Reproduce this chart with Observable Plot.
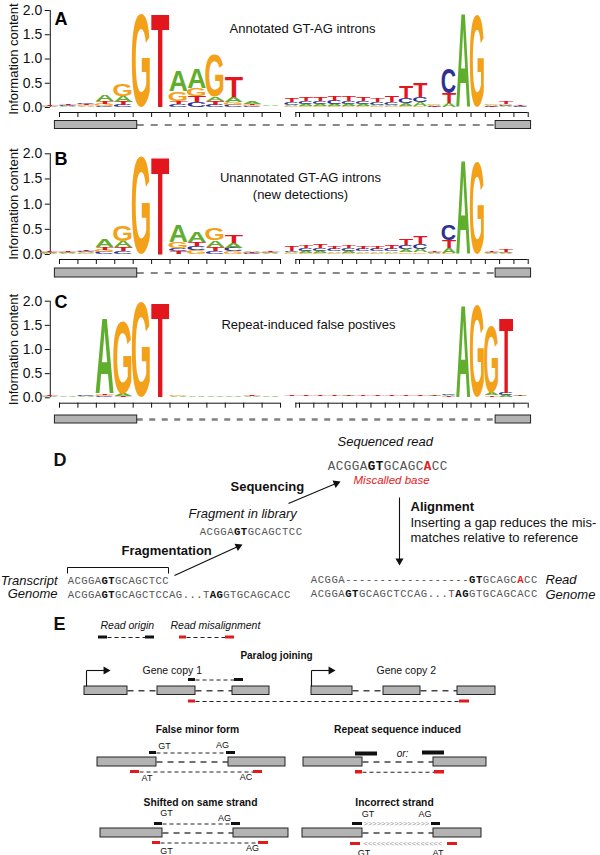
<!DOCTYPE html>
<html><head><meta charset="utf-8">
<script src="https://cdn.jsdelivr.net/npm/d3@7"></script>
<script src="https://cdn.jsdelivr.net/npm/@observablehq/plot@0.6"></script>
<style>
body{margin:0;background:#fff;}
#fig{position:relative;width:600px;height:855px;overflow:hidden;background:#fff;}
#fig > div{position:absolute;left:0;}
#fig svg{background:transparent !important;overflow:visible;}
</style></head><body><div id="fig"></div>
<script>
// ================= DATA =================
const leftPositions  = ["-5","-4","-3","-2","-1","+1","+2","+3","+4","+5","+6","+7","+8"];
const rightPositions = ["-14","-13","-12","-11","-10","-9","-8","-7","-6","-5","-4","-3","-2","-1","+1","+2","+3"];
const logoLetters  = ["A","C","G","T"];
const letterColors = ["#5fae2e","#2e3192","#f4a11a","#e2161d"];
const yTicks = [0, 0.5, 1, 1.5, 2];
const yLabel = "Information content";
const panelLetters = ["A","B","C","D","E"];
const panelTitles = ["Annotated GT-AG introns", "Unannotated GT-AG introns\n(new detections)", "Repeat-induced false postives"];

// information content (bits): 13 left positions then 17 right positions
const annotA = [.01,.01,.02,.12,.12,0,0,.42,.41,.09,.10,.05,.02, .03,.04,.04,.04,.04,.04,.03,.03,.06,.07,.02,.08,1.93,0,.02,.02,.01];
const annotC = [.01,.02,.03,.03,.04,0,.005,.06,.10,.05,.05,.02,.01, .05,.06,.06,.07,.06,.06,.05,.06,.10,.11,.01,.52,0,0,.01,.02,.01];
const annotG = [.01,.01,.02,.04,.24,1.93,0,.20,.17,.86,.05,.02,.01, .02,.02,.02,.02,.02,.02,.02,.02,.03,.03,.02,.01,0,1.9,.02,.02,.01];
const annotT = [.02,.02,.02,.05,.07,0,1.93,.06,.12,.07,.42,.02,.01, .08,.08,.09,.10,.10,.08,.07,.12,.25,.30,.01,.20,0,0,.01,.05,.01];

const novelA = [.01,.01,.02,.14,.12,0,0,.33,.20,.13,.10,.03,.01, .02,.04,.04,.03,.04,.03,.03,.03,.06,.07,.01,.10,1.85,0,.01,.01,.005];
const novelC = [.01,.01,.02,.04,.05,0,0,.06,.08,.06,.07,.01,.01, .03,.05,.05,.05,.05,.04,.04,.05,.08,.10,.01,.30,0,0,.01,.01,.005];
const novelG = [.01,.01,.01,.04,.30,1.93,0,.13,.07,.24,.05,.01,.01, .01,.02,.02,.02,.02,.02,.02,.02,.03,.03,.01,.02,0,1.83,.01,.01,.005];
const novelT = [.01,.02,.02,.05,.08,0,1.94,.05,.08,.08,.16,.01,.01, .10,.06,.07,.06,.06,.05,.06,.07,.12,.14,.01,.15,0,0,.01,.04,.005];

const repeatA = [.01,.01,.01,1.56,.04,0,0,.01,.01,.01,.01,.01,.01, .01,.01,.01,.01,.02,.01,.01,.01,.01,.01,.02,.02,1.91,0,.05,.04,.02];
const repeatC = [.01,.01,.03,.02,.01,0,0,.01,.01,.01,.01,.01,.01, .01,.01,.01,.01,.01,.01,.01,.01,.01,.01,.01,.03,0,0,.01,.04,.01];
const repeatG = [.01,.01,.01,.03,1.50,1.95,0,.02,.01,.01,.01,.01,.01, .01,.01,.01,.01,.01,.01,.01,.01,.01,.01,.01,.01,0,1.91,1.38,.01,.01];
const repeatT = [.02,.01,.01,.03,.02,0,1.95,.01,.01,.01,.01,.02,.01, .01,.01,.01,.01,.01,.02,.01,.01,.02,.01,.01,.01,0,0,.03,1.55,.01];

// panel D text content
const seqRead        = "ACGGAGTGCAGCACC";
const seqFragment    = "ACGGAGTGCAGCTCC";
const seqTranscript  = "ACGGAGTGCAGCTCC";
const seqGenome      = "ACGGAGTGCAGCTCCAG...TAGGTGCAGCACC";
const seqAlignedRead = "ACGGA------------------GTGCAGCACC";
const stepLabels = ["Fragmentation","Sequencing","Alignment"];
const dLabels = ["Sequenced read","Miscalled base","Fragment in library","Transcript","Genome","Read",
                 "Inserting a gap reduces the mis-","matches relative to reference"];
// panel E text content
const eLegend = ["Read origin","Read misalignment"];
const eTitles = ["Paralog joining","False minor form","Repeat sequence induced","Shifted on same strand","Incorrect strand"];
const eGenes = ["Gene copy 1","Gene copy 2"];

// ================= RENDERING =================
const FONT = "'Liberation Sans', Arial, Helvetica, sans-serif";
const MONO = "'Liberation Mono', 'DejaVu Sans Mono', monospace";
const fig = document.getElementById("fig");
const SVGNS = "http://www.w3.org/2000/svg";

// glyph ink boxes for stretched logo letters
const mctx = document.createElement("canvas").getContext("2d");
mctx.font = "bold 100px 'Liberation Sans'";
const glyphBox = {};
for (const L of logoLetters) {
  const m = mctx.measureText(L);
  let gb = {left: m.actualBoundingBoxLeft, right: m.actualBoundingBoxRight, asc: m.actualBoundingBoxAscent, desc: m.actualBoundingBoxDescent};
  if (!(gb.left + gb.right > 1) || !(gb.asc + gb.desc > 1)) gb = {left: -3, right: 68, asc: 72, desc: 0};
  glyphBox[L] = gb;
}
function lettersFromRects(svg) {
  svg.querySelectorAll('rect').forEach(r => {
    const t = r.querySelector("title"); if (!t) return;
    const L = t.textContent.trim(); const g = glyphBox[L]; if (!g) return;
    const x = +r.getAttribute("x"), y = +r.getAttribute("y"), w = +r.getAttribute("width"), h = +r.getAttribute("height");
    const iw = g.left + g.right, ih = g.asc + g.desc;
    const tx = document.createElementNS(SVGNS, "text");
    tx.setAttribute("transform", `translate(${x},${y}) scale(${w / iw},${h / ih}) translate(${g.left},${g.asc})`);
    tx.setAttribute("font-size", 100); tx.setAttribute("font-weight", "bold");
    tx.setAttribute("font-family", FONT);
    tx.setAttribute("fill", letterColors[logoLetters.indexOf(L)]);
    tx.textContent = L;
    r.parentNode.insertBefore(tx, r); r.remove();
  });
}

// slot layout of logo positions (left block: width 1, right block: narrower)
const R0 = 13.03, RW = 0.776, PX = 18.42;
const xOf = i => i < 13 ? i : R0 + (i - 13) * RW;
const wOf = i => i < 13 ? 1 : RW;

const panels = [
  {top: 0,   height: 140, y2: 10,   y0: 107,   axis: 112,   box: [120.5, 128.5], letterY: 18.5, title: {x: 302, y: 27}, heights: [annotA, annotC, annotG, annotT], dash: "thin"},
  {top: 140, height: 140, y2: 13.3, y0: 114,   axis: 119,   box: [128, 137],     letterY: 18.5, title: {x: 300, y: 44.5}, heights: [novelA, novelC, novelG, novelT], dash: "thin"},
  {top: 280, height: 150, y2: 20.7, y0: 117.3, axis: 122.7, box: [135, 143],     letterY: 21.5, title: {x: 308, y: 42.7}, heights: [repeatA, repeatC, repeatG, repeatT], dash: "thick"},
];
const allPositions = [...leftPositions, ...rightPositions];

panels.forEach((p, pi) => {
  const k = (p.y0 - p.y2) / 2;          // px per bit
  const toBits = px => (p.y0 - px) / k; // local px -> bits
  const yMin = toBits(p.axis);
  const rows = [];
  allPositions.forEach((pos, i) => {
    const vals = logoLetters.map((L, li) => ({L, h: p.heights[li][i]})).filter(d => d.h > 0).sort((a, b) => a.h - b.h);
    let acc = 0;
    for (const v of vals) {
      rows.push({pos, letter: v.L, x1: xOf(i) - wOf(i) * 0.49, x2: xOf(i) + wOf(i) * 0.49, y1: acc, y2: acc + v.h});
      acc += v.h;
    }
  });
  const tickPos = allPositions.map((_, i) => xOf(i));
  const axisSegs = [{x1: 0, x2: 12}, {x1: xOf(13) - 0.2, x2: xOf(29)}];
  const boxY1 = toBits(p.box[0]), boxY2 = toBits(p.box[1]), boxMid = (boxY1 + boxY2) / 2;
  const exons = [{x1: -0.25, x2: 4.22}, {x1: R0 + 13.72 * RW, x2: R0 + 16.2 * RW}];
  const ML = 59 - 0.5 * PX;
  const dashStyle = p.dash === "thin"
    ? {stroke: "#111", strokeWidth: 1, strokeDasharray: "7,7"}
    : {stroke: "#808080", strokeWidth: 2.6, strokeDasharray: "6,6.5"};
  const toX = px => (px - 59) / PX;

  const chart = Plot.plot({
    width: 600, height: p.height,
    marginLeft: ML, marginRight: 600 - ML - 26.4 * PX, marginTop: p.y2, marginBottom: p.height - p.axis,
    x: {domain: [-0.5, 25.9], axis: null},
    y: {domain: [yMin, 2]},
    style: {fontFamily: FONT, color: "#111", background: "transparent"},
    marks: [
      Plot.axisY(yTicks, {anchor: "left", tickSize: 5, tickPadding: 3, tickFormat: d => d.toFixed(1), fontSize: 14, label: null}),
      Plot.ruleX([-0.5], {y1: 0, y2: 2, stroke: "#111"}),
      Plot.ruleY(axisSegs, {x1: "x1", x2: "x2", y: yMin, stroke: "#111"}),
      Plot.ruleX(tickPos, {y1: yMin, y2: yMin - 5 / k, stroke: "#111"}),
      Plot.ruleX([xOf(13) - 0.2], {y1: yMin, y2: yMin - 5 / k, stroke: "#111"}),
      Plot.ruleY([boxMid], {x1: exons[0].x2, x2: exons[1].x1, ...dashStyle}),
      Plot.rect(exons, {x1: "x1", x2: "x2", y1: boxY1, y2: boxY2, fill: "#b3b3b3", stroke: "#222", strokeWidth: 1}),
      Plot.rect(rows, {x1: "x1", x2: "x2", y1: "y1", y2: "y2", fill: d => letterColors[logoLetters.indexOf(d.letter)], title: "letter"}),
      Plot.text([yLabel], {x: toX(13), y: 1, text: d => d, rotate: -90, fontSize: 13, fill: "#111"}),
      Plot.text([panelLetters[pi]], {x: toX(54), y: toBits(p.letterY), text: d => d, textAnchor: "start", fontSize: 18, fontWeight: "bold", fill: "#000"}),
      Plot.text([panelTitles[pi]], {x: toX(p.title.x), y: toBits(p.title.y), text: d => d, fontSize: 13, lineHeight: 1.3, fill: "#111"}),
    ]
  });
  lettersFromRects(chart);
  const div = document.createElement("div");
  div.style.top = p.top + "px";
  div.appendChild(chart);
  fig.appendChild(div);
});

// ---------- panels D and E (schematic) ----------
const DTOP = 435, DH = 420;
const K = "#111", RED = "#e31a1c";
const marks = [];
function label(t, x, y, o = {}) {
  marks.push(Plot.text([t], {x: () => x, y: () => y, text: d => d, fontFamily: o.mono ? MONO : FONT,
    fontSize: o.size || 13, fontWeight: o.weight || "normal", fontStyle: o.style || "normal",
    fill: o.fill || K, textAnchor: o.anchor || "start"}));
}
function seq(s, x0, y, cw, fs, bold = [], red = []) {
  const chars = [...s].map((c, i) => ({c, x: x0 + (i + 0.5) * cw, y, b: bold.includes(i), r: red.includes(i)}));
  const base = {x: "x", y: "y", text: "c", fontFamily: MONO, fontSize: fs};
  marks.push(Plot.text(chars.filter(d => !d.b && !d.r), {...base, fill: "#555"}));
  marks.push(Plot.text(chars.filter(d => d.b), {...base, fontWeight: "bold", fill: "#111"}));
  marks.push(Plot.text(chars.filter(d => d.r), {...base, fontWeight: "bold", fill: RED}));
}
function arrows(list) {
  const shafts = [], heads = [];
  for (const [x1, y1, x2, y2] of list) {
    const L = Math.hypot(x2 - x1, y2 - y1), ux = (x2 - x1) / L, uy = (y2 - y1) / L;
    shafts.push({x1, y1, x2: x2 - ux * 5, y2: y2 - uy * 5});
    heads.push({x: x2 - ux * 4.6, y: y2 - uy * 4.6, a: Math.atan2(ux, -uy) * 180 / Math.PI});
  }
  marks.push(Plot.link(shafts, {x1: "x1", y1: "y1", x2: "x2", y2: "y2", stroke: K, strokeWidth: 1.1}));
  marks.push(Plot.dot(heads, {x: "x", y: "y", rotate: "a", symbol: "triangle", r: 3, fill: K, stroke: "none"}));
}

// --- D ---
label(panelLetters[3], 53, 460, {size: 18, weight: "bold"});
label(dLabels[0], 337, 441, {style: "italic"});
seq(seqRead, 327, 465, 8, 12.6, [5, 6], [12]);
label(dLabels[1], 353, 479.5, {style: "italic", size: 11.5, fill: RED});
label(stepLabels[1], 230, 486, {weight: "bold"});
arrows([[288, 503, 340, 481]]);
label(dLabels[2], 188, 513, {style: "italic"});
seq(seqFragment, 199, 531.5, 6.85, 10.6, [5, 6]);
label(stepLabels[0], 121, 550.5, {weight: "bold"});
arrows([[174, 575, 242, 544]]);
marks.push(Plot.link([{x1: 67, y1: 567, x2: 168, y2: 567}, {x1: 67, y1: 567, x2: 67, y2: 573}, {x1: 168, y1: 567, x2: 168, y2: 573}],
  {x1: "x1", y1: "y1", x2: "x2", y2: "y2", stroke: K, strokeWidth: 1}));
label(dLabels[3], 57, 580, {style: "italic", anchor: "end"});
seq(seqTranscript, 67, 580.5, 6.76, 10.6, [5, 6]);
label(dLabels[4], 57, 593.5, {style: "italic", anchor: "end"});
seq(seqGenome, 67, 594, 6.76, 10.6, [5, 6, 21, 22]);
label(stepLabels[2], 410, 506.5, {weight: "bold"});
label(dLabels[6], 410, 522);
label(dLabels[7], 410, 537);
arrows([[399, 497, 399, 565]]);
seq(seqAlignedRead, 310, 579, 6.88, 10.6, [23, 24], [30]);
seq(seqGenome, 310, 593.5, 6.88, 10.6, [5, 6, 21, 22]);
label(dLabels[5], 545, 579, {style: "italic"});
label(dLabels[4], 545, 594, {style: "italic"});

// --- E ---
label(panelLetters[4], 53, 623.5, {size: 18, weight: "bold"});
label(eLegend[0], 100, 625, {style: "italic", size: 10.5});
label(eLegend[1], 170, 625, {style: "italic", size: 10.5});
const exonBoxes = [
  [84,127,686,694.5],[157,195,686,694.5],[232,269,686,694.5],[311,352,686,694.5],[383,420,686,694.5],[457,495,686,694.5],
  [97,156,757,766],[228,285,757,766],[303,362,757,766],[433,486,757,766],
  [100,162,828,837],[233,288,828,837],[302,362,828,837],[433,481,828,837]];
const intronLinks = [[127,157,690.3],[195,232,690.3],[352,383,690.3],[420,457,690.3],[156,228,761.5],[362,433,761.5],[162,233,832.5],[362,433,832.5]];
const readRects = [
  [98,107,635.5,638.5,K],[145,154,635.5,638.5,K],[179,186,635.5,638.5,RED],[225,234,635.5,638.5,RED],
  [188,195,678,681,K],[234,243,678,681,K],[188,195,699.5,702.5,RED],[459,469,699.5,702.5,RED],
  [149,156,751,754,K],[226,235,751,754,K],[130,139,770,773,RED],[253,262,770,773,RED],
  [355,377,751.5,755.5,K],[422,444,750.5,754.5,K],[355,362,770,773.5,RED],[434,444,770,773.5,RED],
  [154,162,822,825,K],[231,240,822,825,K],[152,160,841,844,RED],[258,268,841,844,RED],
  [352,362,822,825,K],[431,440,822,825,K],[350,360,842,845,RED],[447,457,842,845,RED]];
const readLinks = [[107,145,637],[186,225,637],[195,234,679.5],[195,459,701],[156,226,752.5],[139,253,771.5],[362,434,771.75],[162,231,823.5],[160,258,842.5]];
marks.push(Plot.link(intronLinks, {x1: d => d[0], x2: d => d[1], y1: d => d[2], y2: d => d[2], stroke: "#444", strokeWidth: 1.4, strokeDasharray: "6,5"}));
marks.push(Plot.rect(exonBoxes, {x1: d => d[0], x2: d => d[1], y1: d => d[2], y2: d => d[3], fill: "#b3b3b3", stroke: "#222", strokeWidth: 1}));
marks.push(Plot.link(readLinks, {x1: d => d[0], x2: d => d[1], y1: d => d[2], y2: d => d[2], stroke: "#222", strokeWidth: 1, strokeDasharray: "4,3"}));
marks.push(Plot.rect(readRects.filter(d => d[4] === K), {x1: d => d[0], x2: d => d[1], y1: d => d[2], y2: d => d[3], fill: K}));
marks.push(Plot.rect(readRects.filter(d => d[4] === RED), {x1: d => d[0], x2: d => d[1], y1: d => d[2], y2: d => d[3], fill: RED}));
// strand chevrons
const chevrons = [{x: 363, y: 823.5, t: ">".repeat(15)}, {x: 363, y: 843.5, t: "<".repeat(18)}];
marks.push(Plot.text(chevrons, {x: "x", y: "y", text: "t", textAnchor: "start", fontSize: 7.5, fill: "#999", fontFamily: FONT}));
// transcription start arrows
marks.push(Plot.link([{x1: 86, y1: 686, x2: 86, y2: 670}, {x1: 311, y1: 686, x2: 311, y2: 670}], {x1: "x1", y1: "y1", x2: "x2", y2: "y2", stroke: K, strokeWidth: 1.1}));
arrows([[86, 670, 110, 670], [311, 670, 335, 670]]);
label(eTitles[0], 276, 655, {weight: "bold", size: 10, anchor: "middle"});
label(eGenes[0], 142, 670, {size: 10.5});
label(eGenes[1], 376, 670, {size: 10.5});
label(eTitles[1], 197, 729, {weight: "bold", size: 10.3, anchor: "middle"});
label(eTitles[2], 397, 729, {weight: "bold", size: 10.3, anchor: "middle"});
label(eTitles[3], 200, 802.5, {weight: "bold", size: 10.3, anchor: "middle"});
label(eTitles[4], 394, 802.5, {weight: "bold", size: 10.3, anchor: "middle"});
const motif = [["GT",164,746],["AG",222,745],["AT",146.5,778],["AC",245.5,777],
               ["GT",166,812.5],["AG",224,817.5],["GT",166,850.7],["AG",252,848],
               ["GT",367.5,814],["AG",424.5,814],["GT",363.5,852.7],["AT",437.5,852.7]];
marks.push(Plot.text(motif, {x: d => d[1], y: d => d[2], text: d => d[0], fontSize: 9, fill: K, fontFamily: FONT}));
label("or:", 402, 753.5, {style: "italic", size: 10, anchor: "middle"});

const dChart = Plot.plot({
  width: 600, height: DH, marginTop: 0, marginBottom: 0, marginLeft: 0, marginRight: 0,
  x: {domain: [0, 600], range: [0, 600], axis: null},
  y: {domain: [DTOP, DTOP + DH], range: [0, DH], axis: null},
  style: {fontFamily: FONT, background: "transparent"},
  marks
});
const dDiv = document.createElement("div");
dDiv.style.top = DTOP + "px";
dDiv.appendChild(dChart);
fig.appendChild(dDiv);
</script></body></html>
